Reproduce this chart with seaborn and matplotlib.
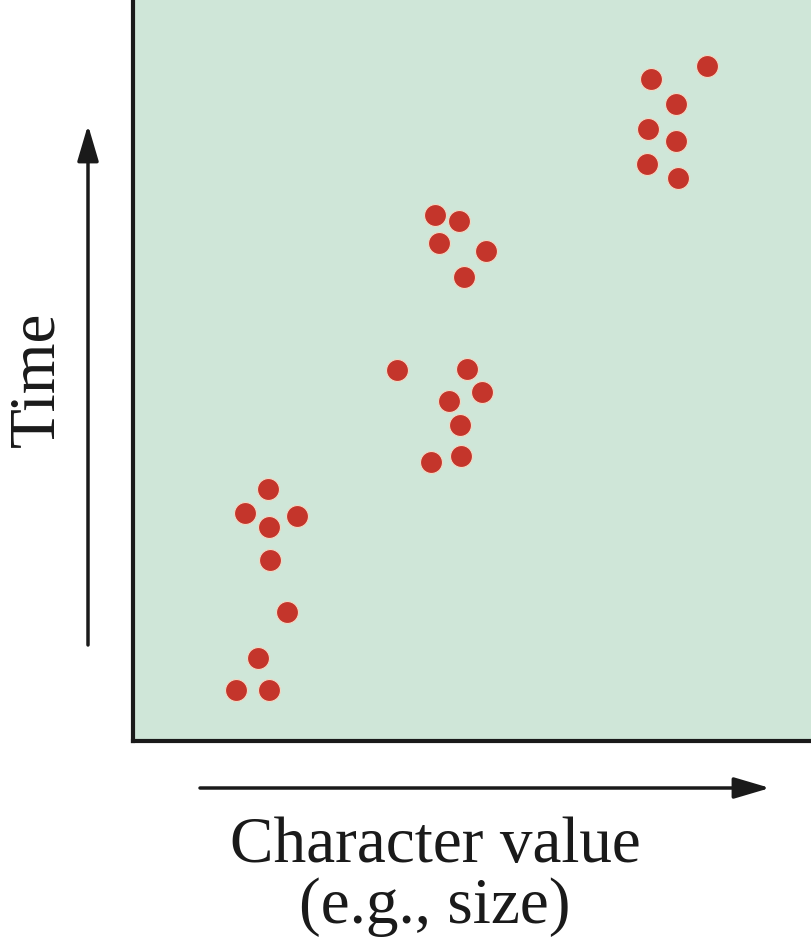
import matplotlib
matplotlib.use('Agg')
import matplotlib.pyplot as plt
import seaborn as sns
import pandas as pd

# character value (x) and time (y), arbitrary units 0-100
char_value = [76.4, 84.7, 80.1, 76.0, 80.1, 75.8, 80.4,
              44.5, 48.1, 45.1, 52.1, 48.8,
              38.9, 49.3, 51.5, 46.6, 48.2, 44.0, 48.4,
              19.9, 16.5, 20.1, 24.2, 20.2, 22.7, 18.4, 15.2, 20.1]
time = [89.3, 91.1, 86.0, 82.6, 81.0, 77.9, 76.0,
        71.0, 70.2, 67.2, 66.1, 62.6,
        50.1, 50.2, 47.1, 45.9, 42.6, 37.7, 38.5,
        34.0, 30.8, 28.9, 30.4, 24.4, 17.4, 11.2, 6.9, 6.9]

df = pd.DataFrame({'value': char_value, 'time': time})

sns.set_style('white')
plt.rcParams['font.family'] = ['Liberation Serif', 'DejaVu Serif']

fig = plt.figure(figsize=(8.11, 9.39), dpi=100)
ax = fig.add_axes([133 / 811, 1 - 741 / 939, 678 / 811, 741 / 939])
ax.set_facecolor('#cfe6d8')

sns.scatterplot(data=df, x='value', y='time', ax=ax,
                color='#c4352b', s=250, edgecolor='#f3d9c4', linewidth=0.8,
                zorder=3)

ax.set_xlim(0, 100)
ax.set_ylim(0, 100)
ax.set_xticks([])
ax.set_yticks([])
ax.set_xlabel('')
ax.set_ylabel('')
for side in ['top', 'right']:
    ax.spines[side].set_visible(False)
for side in ['left', 'bottom']:
    ax.spines[side].set_color('#1a1a1a')
    ax.spines[side].set_linewidth(3)

arrow = dict(arrowstyle='-|>,head_length=2.2,head_width=0.65',
             color='#1a1a1a', lw=2.5, shrinkA=0, shrinkB=0)
fig.add_artist(plt.Annotation('', xy=(88 / 811, 1 - 125 / 939),
                              xytext=(88 / 811, 1 - 645 / 939),
                              xycoords='figure fraction',
                              arrowprops=arrow))
fig.add_artist(plt.Annotation('', xy=(770 / 811, 1 - 788 / 939),
                              xytext=(200 / 811, 1 - 788 / 939),
                              xycoords='figure fraction',
                              arrowprops=arrow))

fig.text(38 / 811, 1 - 379 / 939, 'Time', rotation=90, fontsize=47,
         ha='center', va='center', color='#1a1a1a')
fig.text(435 / 811, 1 - 877 / 939, 'Character value\n(e.g., size)',
         fontsize=47, ha='center', va='center', color='#1a1a1a',
         linespacing=1.03)

plt.savefig('out.png', dpi=100)
